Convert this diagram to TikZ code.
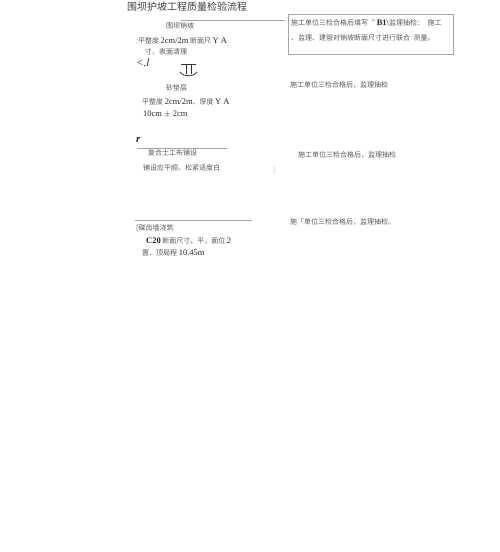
\documentclass[tikz,border=0pt]{standalone}
\usepackage{fontspec}
\setmainfont{Liberation Serif}
\newfontfamily\cjk{Noto Sans CJK SC}
\usepackage{xcolor}
\usepackage{tikz}
\newcommand{\lat}[1]{{\rmfamily\fontsize{8.5}{10}\selectfont\color{black!85}#1}}

\begin{document}
\begin{tikzpicture}[x=1pt,y=-1pt,
  note/.style={anchor=west,inner sep=0pt,text=black!65,font=\cjk\fontsize{7}{8}\selectfont},
  head/.style={anchor=west,inner sep=0pt,text=black!75,font=\cjk\fontsize{10}{12}\selectfont},
  scrib/.style={anchor=west,inner sep=0pt,text=black!85,font=\rmfamily\fontsize{11}{12}\selectfont\itshape},
  rule/.style={black!35,line width=0.6pt}]
\useasboundingbox (0,0) rectangle (500,552);

\node[head] (title) at (127,7) {围坝护坡工程质量检验流程};

% slope trimming
\coordinate (r1a) at (181,20);
\coordinate (r1b) at (285,20);
\draw[rule] (r1a) -- (r1b);
\node[note] (slope) at (166,26) {围坝销坡};
\node[note] (slope1) at (136,41) {:平整度 \lat{2cm/2m} 断面尺 \lat{Y A}};
\node[note] (slope2) at (145,52) {寸、表面清理};
\node[scrib] (k1) at (136,63) {<.l};

\coordinate (b1) at (288,14);
\coordinate (b2) at (453,54);
\draw[rule,line width=0.5pt] (b1) rectangle (b2);
\node[note] (chk1a) at (291,23) {施工单位三检合格后填写“ \lat{\textbf{B1}\textbackslash}监理抽检：\enspace 施工};
\node[note] (chk1b) at (291,38) {、监理、建管对销坡断面尺寸进行联合\enspace 测量。};

% down sign
\draw[black!80,line width=0.8pt] (181,64) -- (196,64);
\draw[black!80,line width=0.8pt] (186,64) -- (186,74) (191,64) -- (191,74);
\draw[black!80,line width=0.8pt] (180,72) .. controls (183,77) and (194,77) .. (197,72);

% sand cushion
\node[note] (sand) at (166,88) {砂垫层};
\node[note] (sand1) at (142,102) {平整度 \lat{2cm/2m}、厚度 \lat{Y A}};
\node[note] (sand2) at (143,114) {\lat{10cm $\pm$ 2cm}};
\node[note] (chk2) at (290,85) {施工单位三检合格后，监理抽检};

% geotextile
\node[scrib,font=\rmfamily\fontsize{11}{12}\selectfont\bfseries\itshape] (k2) at (136,140) {r};
\coordinate (r2a) at (137,148);
\coordinate (r2b) at (227,148);
\draw[rule] (r2a) -- (r2b);
\node[note] (geo) at (148,153) {复合土工布铺设};
\node[note] (geo1) at (143,168) {铺设应平顺、松紧适度白};
\node[note,text=black!40,font=\rmfamily\fontsize{8}{9}\selectfont] (k3) at (273,170) {$\rangle$};
\node[note] (chk3) at (298,155) {施工单位三检合格后，监理抽检};

% toe wall
\coordinate (r3a) at (135,220);
\coordinate (r3b) at (252,220);
\draw[rule] (r3a) -- (r3b);
\node[note] (wall) at (136,228) {[碟齿墙浇筑};
\node[note] (wall1) at (146,241) {\lat{\textbf{C20}} 断面尺寸、平，面位 \lat{2}};
\node[note] (wall2) at (142,253) {置、顶局程 \lat{10.45m}};
\node[note] (chk4) at (290,222) {施「单位三检合格后，监理抽检。};
\end{tikzpicture}
\end{document}
